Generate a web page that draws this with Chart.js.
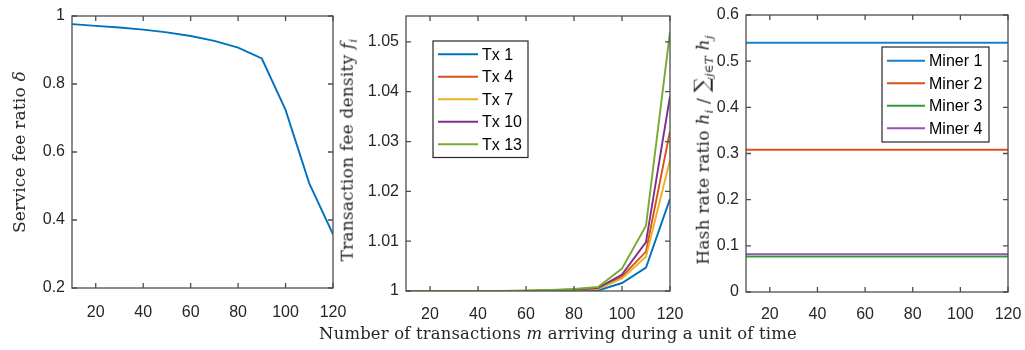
<!DOCTYPE html>
<html>
<head>
<meta charset="utf-8">
<script src="https://cdn.jsdelivr.net/npm/chart.js@4.4.1/dist/chart.umd.min.js"></script>
<style>
  body { margin: 0; background: #fff; width: 1025px; height: 350px; position: relative; overflow: hidden; }
  canvas { position: absolute; top: 0; }
  .title { position: absolute; white-space: nowrap; font: 17px "DejaVu Serif", serif; letter-spacing: 0.2px; color: #262626; }
  .ytitle { transform: translate(-50%, -50%) rotate(-90deg); }
  .xtitle { transform: translate(-50%, -50%); font-size: 16.4px; }
  .title sub { font-size: 70%; vertical-align: -0.3em; }
  .big { font-size: 125%; }
</style>
</head>
<body>
<canvas id="c1" width="350" height="330" style="left:0px"></canvas>
<canvas id="c2" width="350" height="330" style="left:340px"></canvas>
<canvas id="c3" width="335" height="330" style="left:690px"></canvas>

<div class="title ytitle" style="left:19px; top:152px">Service fee ratio <i>δ</i></div>
<div class="title ytitle" style="left:348px; top:150px">Transaction fee density <i>f<sub>i</sub></i></div>
<div class="title ytitle" style="left:702px; top:150px">Hash rate ratio <i>h<sub>i</sub></i> / <span class="big">∑</span><sub><i>j</i>∈<i>T</i></sub> <i>h<sub>j</sub></i></div>
<div class="title xtitle" style="left:558px; top:333px">Number of transactions <i>m</i> arriving during a unit of time</div>

<script>
// number of arriving transactions m
const xs = [10, 20, 30, 40, 50, 60, 70, 80, 90, 100, 110, 120];
const xTicks = [20, 40, 60, 80, 100, 120];

// left: service fee ratio delta
const serviceFeeRatio = [0.976, 0.971, 0.966, 0.960, 0.952, 0.941, 0.927, 0.907, 0.875, 0.724, 0.508, 0.358];
const yTicks1 = [0.2, 0.4, 0.6, 0.8, 1];

// middle: transaction fee density f_i
const txLabels = ['Tx 1', 'Tx 4', 'Tx 7', 'Tx 10', 'Tx 13'];
const tx1  = [1, 1, 1, 1, 1, 1,      1,      1,      1.0001, 1.0016, 1.0047, 1.0185];
const tx4  = [1, 1, 1, 1, 1, 1,      1.0001, 1.0002, 1.0005, 1.0029, 1.0079, 1.0321];
const tx7  = [1, 1, 1, 1, 1, 1,      1.0001, 1.0002, 1.0004, 1.0025, 1.0069, 1.0263];
const tx10 = [1, 1, 1, 1, 1, 1,      1.0001, 1.0003, 1.0006, 1.0033, 1.0098, 1.0391];
const tx13 = [1, 1, 1, 1, 1, 1.0001, 1.0002, 1.0004, 1.0008, 1.0045, 1.0131, 1.0520];
const yTicks2 = [1, 1.01, 1.02, 1.03, 1.04, 1.05];

// right: hash rate ratio
const minerLabels = ['Miner 1', 'Miner 2', 'Miner 3', 'Miner 4'];
const miner1 = [0.540, 0.540, 0.540, 0.540, 0.540, 0.540, 0.540, 0.540, 0.540, 0.540, 0.540, 0.540];
const miner2 = [0.308, 0.308, 0.308, 0.308, 0.308, 0.308, 0.308, 0.308, 0.308, 0.308, 0.308, 0.308];
const miner3 = [0.077, 0.077, 0.077, 0.077, 0.077, 0.077, 0.077, 0.077, 0.077, 0.077, 0.077, 0.077];
const miner4 = [0.082, 0.082, 0.082, 0.082, 0.082, 0.082, 0.082, 0.082, 0.082, 0.082, 0.082, 0.082];
const yTicks3 = [0, 0.1, 0.2, 0.3, 0.4, 0.5, 0.6];

const TX_COLORS = ['#0072BD', '#D95319', '#EDB120', '#7E2F8E', '#77AC30'];
const MINER_COLORS = ['#1a80cc', '#D95319', '#2E9A3A', '#9650b0'];
const AXIS_COLOR = '#4d4d4d';
const TICK_FONT = { family: '"Liberation Sans", Arial, sans-serif', size: 16 };

// MATLAB style box with inward ticks on all four sides
const matlabAxes = {
  id: 'matlabAxes',
  afterDatasetsDraw(chart) {
    const { ctx, chartArea: a, scales: { x, y } } = chart;
    ctx.save();
    ctx.strokeStyle = AXIS_COLOR;
    ctx.lineWidth = 1.3;
    ctx.beginPath();
    x.ticks.forEach(t => {
      const px = x.getPixelForValue(t.value);
      ctx.moveTo(px, a.bottom); ctx.lineTo(px, a.bottom - 5);
      ctx.moveTo(px, a.top); ctx.lineTo(px, a.top + 5);
    });
    y.ticks.forEach(t => {
      const py = y.getPixelForValue(t.value);
      ctx.moveTo(a.left, py); ctx.lineTo(a.left + 5, py);
      ctx.moveTo(a.right, py); ctx.lineTo(a.right - 5, py);
    });
    ctx.stroke();
    ctx.strokeRect(a.left, a.top, a.right - a.left, a.bottom - a.top);
    ctx.restore();
  }
};

// boxed legend inside the plot area
const boxLegend = {
  id: 'boxLegend',
  afterDraw(chart, args, opts) {
    if (!opts.width) return;
    const { ctx, chartArea: a } = chart;
    const sets = chart.data.datasets;
    const x0 = a.left + opts.left, y0 = a.top + opts.top;
    const h = opts.padY * 2 + sets.length * opts.rowHeight;
    ctx.save();
    ctx.fillStyle = '#fff';
    ctx.fillRect(x0, y0, opts.width, h);
    ctx.strokeStyle = '#262626';
    ctx.lineWidth = 1.2;
    ctx.strokeRect(x0, y0, opts.width, h);
    ctx.font = '16px "Liberation Sans", Arial, sans-serif';
    ctx.textBaseline = 'middle';
    ctx.fillStyle = '#000';
    sets.forEach((ds, i) => {
      const cy = y0 + opts.padY + (i + 0.5) * opts.rowHeight;
      ctx.strokeStyle = ds.borderColor;
      ctx.lineWidth = 2;
      ctx.beginPath();
      ctx.moveTo(x0 + opts.lineStart, cy);
      ctx.lineTo(x0 + opts.lineStart + opts.lineLen, cy);
      ctx.stroke();
      ctx.fillText(ds.label, x0 + opts.textStart, cy + 1);
    });
    ctx.restore();
  }
};

Chart.register(matlabAxes, boxLegend);

function series(label, values, color, order) {
  return {
    label, data: xs.map((x, i) => ({ x, y: values[i] })),
    borderColor: color, backgroundColor: color, borderWidth: 1.9,
    pointRadius: 0, tension: 0, order,
  };
}

function makePanel(canvasId, datasets, opt) {
  return new Chart(document.getElementById(canvasId), {
    type: 'line',
    data: { datasets },
    options: {
      responsive: false, animation: false,
      layout: { padding: { top: opt.top, right: opt.right, left: 0, bottom: 0 } },
      plugins: { legend: { display: false }, tooltip: { enabled: false }, boxLegend: opt.legend || {} },
      scales: {
        x: {
          type: 'linear', min: 10, max: 120,
          afterBuildTicks: s => { s.ticks = xTicks.map(v => ({ value: v })); },
          afterFit: s => { s.height = opt.xHeight; s.paddingLeft = 0; s.paddingRight = 0; },
          grid: { display: false, drawTicks: false }, border: { display: false },
          ticks: { font: TICK_FONT, color: '#262626', padding: opt.xPad, maxRotation: 0, autoSkip: false },
        },
        y: {
          type: 'linear', min: opt.yMin, max: opt.yMax,
          afterBuildTicks: s => { s.ticks = opt.yTicks.map(v => ({ value: v })); },
          afterFit: s => { s.width = opt.yWidth; s.paddingTop = 0; s.paddingBottom = 0; },
          grid: { display: false, drawTicks: false }, border: { display: false },
          ticks: { font: TICK_FONT, color: '#262626', padding: 7, autoSkip: false,
                   callback: v => String(Math.round(v * 1000) / 1000) },
        },
      },
    },
  });
}

makePanel('c1', [series('delta', serviceFeeRatio, '#0072BD', 0)], {
  top: 16, right: 17, xHeight: 42, xPad: 15, yWidth: 72,
  yMin: 0.2, yMax: 1, yTicks: yTicks1,
});

makePanel('c2', [
  series(txLabels[0], tx1, TX_COLORS[0], 5),
  series(txLabels[1], tx4, TX_COLORS[1], 4),
  series(txLabels[2], tx7, TX_COLORS[2], 3),
  series(txLabels[3], tx10, TX_COLORS[3], 2),
  series(txLabels[4], tx13, TX_COLORS[4], 1),
], {
  top: 16, right: 20, xHeight: 39, xPad: 14, yWidth: 66,
  yMin: 1, yMax: 1.0552, yTicks: yTicks2,
  legend: { left: 27, top: 25, width: 95, rowHeight: 22.5, padY: 2, lineStart: 5, lineLen: 40, textStart: 49 },
});

makePanel('c3', [
  series(minerLabels[0], miner1, MINER_COLORS[0], 4),
  series(minerLabels[1], miner2, MINER_COLORS[1], 3),
  series(minerLabels[2], miner3, MINER_COLORS[2], 2),
  series(minerLabels[3], miner4, MINER_COLORS[3], 1),
], {
  top: 15, right: 17, xHeight: 38, xPad: 13, yWidth: 56,
  yMin: 0, yMax: 0.6, yTicks: yTicks3,
  legend: { left: 136, top: 32, width: 107, rowHeight: 22.5, padY: 2.5, lineStart: 5, lineLen: 38, textStart: 47 },
});
</script>
</body>
</html>
